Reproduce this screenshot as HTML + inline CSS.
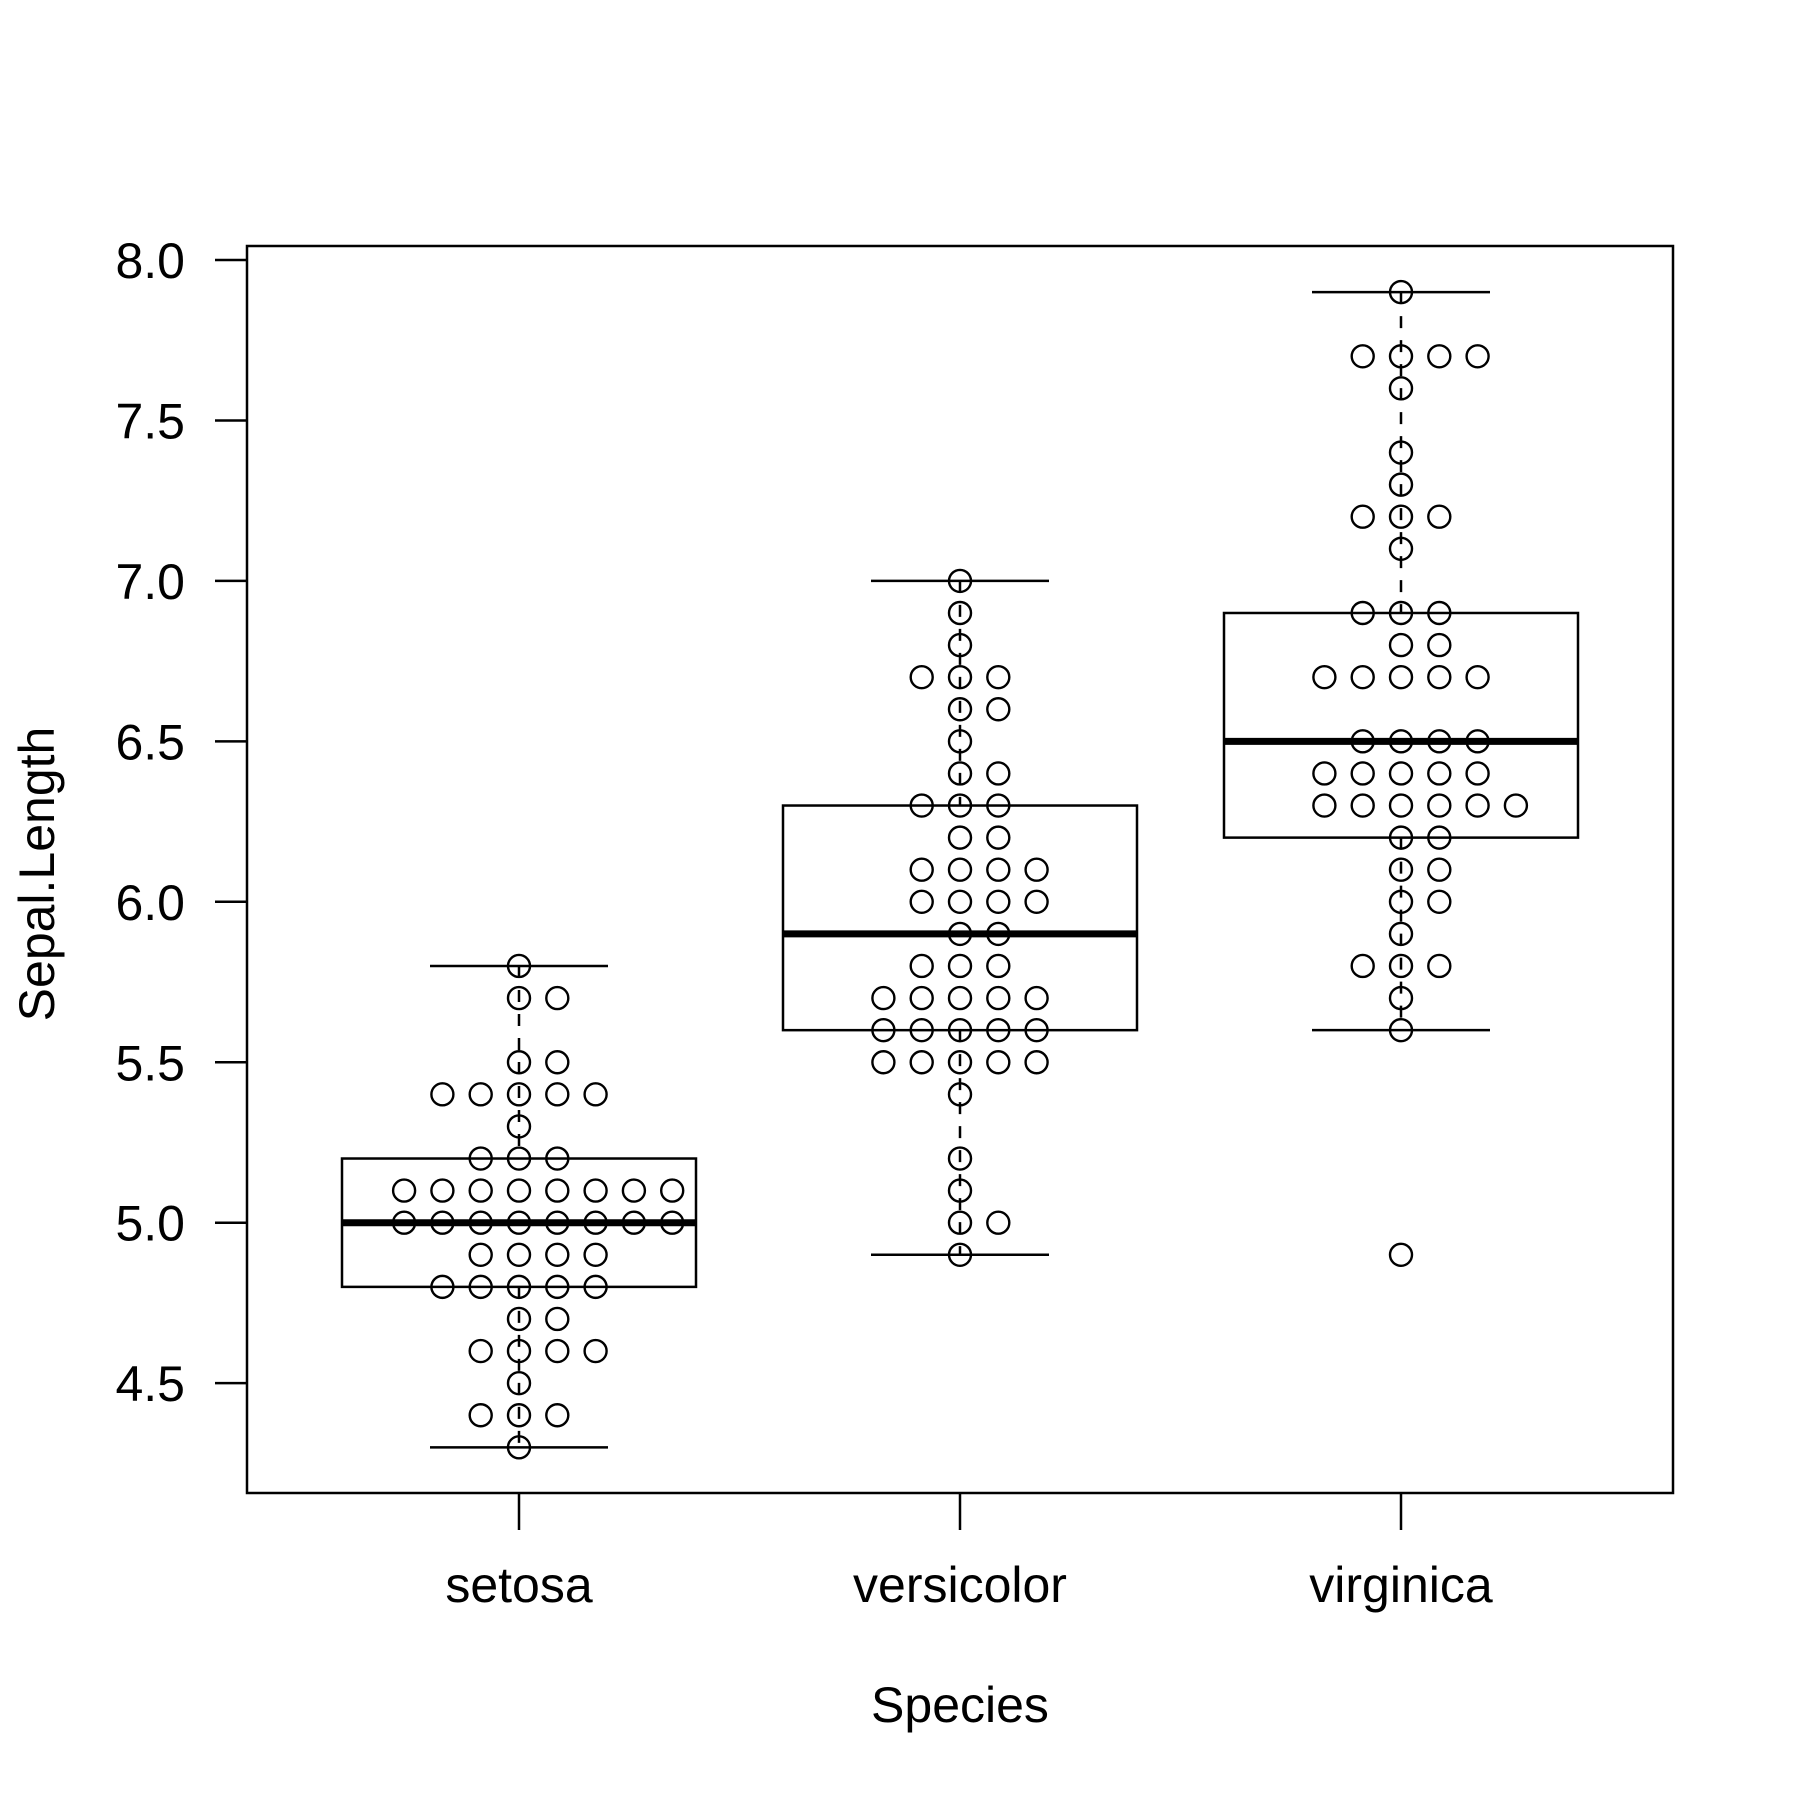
<!DOCTYPE html>
<html><head><meta charset="utf-8"><style>body{margin:0;background:#fff}svg{display:block}</style></head>
<body>
<svg id="s" width="1800" height="1800" xmlns="http://www.w3.org/2000/svg" font-family="Liberation Sans, Arial, sans-serif">
<rect width="1800" height="1800" fill="#fff"/>
<g id="g"></g>
</svg>
<script>
const g=document.getElementById('g');
let h='';
const Y=v=>260+(8-v)*320.9;
const sp=38.3, r=11;
h+=`<rect x="247" y="246" width="1426" height="1247" fill="none" stroke="#000" stroke-width="2.5"/>`;
for(let v=4.5;v<=8.001;v+=0.5){const y=Y(v);h+=`<line x1="215" x2="247" y1="${y}" y2="${y}" stroke="#000" stroke-width="2.5"/><text x="185" y="${y+18}" font-size="50" text-anchor="end">${v.toFixed(1)}</text>`;}
const cx=[519,960,1401],names=['setosa','versicolor','virginica'];
cx.forEach((x,i)=>{h+=`<line x1="${x}" x2="${x}" y1="1493" y2="1530" stroke="#000" stroke-width="2.5"/><text x="${x}" y="1602" font-size="50" text-anchor="middle">${names[i]}</text>`;});
h+=`<text x="960" y="1722" font-size="50" text-anchor="middle">Species</text>`;
h+=`<text transform="translate(54,874) rotate(-90)" font-size="50" text-anchor="middle">Sepal.Length</text>`;
const st=[[4.8,5.0,5.2,4.3,5.8],[5.6,5.9,6.3,4.9,7.0],[6.2,6.5,6.9,5.6,7.9]];
st.forEach((s,i)=>{const x=cx[i];
 h+=`<line x1="${x}" x2="${x}" y1="${Y(s[4])}" y2="${Y(s[2])}" stroke="#000" stroke-width="2.5" stroke-dasharray="12,12"/>`;
 h+=`<line x1="${x}" x2="${x}" y1="${Y(s[0])}" y2="${Y(s[3])}" stroke="#000" stroke-width="2.5" stroke-dasharray="12,12"/>`;
 h+=`<line x1="${x-89}" x2="${x+89}" y1="${Y(s[4])}" y2="${Y(s[4])}" stroke="#000" stroke-width="2.5"/>`;
 h+=`<line x1="${x-89}" x2="${x+89}" y1="${Y(s[3])}" y2="${Y(s[3])}" stroke="#000" stroke-width="2.5"/>`;
 h+=`<rect x="${x-177}" y="${Y(s[2])}" width="354" height="${Y(s[0])-Y(s[2])}" fill="none" stroke="#000" stroke-width="2.5"/>`;
 h+=`<line x1="${x-177}" x2="${x+177}" y1="${Y(s[1])}" y2="${Y(s[1])}" stroke="#000" stroke-width="7"/>`;
});
const pts=[
[[5.8,0,0],[5.7,0,1],[5.5,0,1],[5.4,-2,2],[5.3,0,0],[5.2,-1,1],[5.1,-3,4],[5.0,-3,4],[4.9,-1,2],[4.8,-2,2],[4.7,0,1],[4.6,-1,2],[4.5,0,0],[4.4,-1,1],[4.3,0,0]],
[[7.0,0,0],[6.9,0,0],[6.8,0,0],[6.7,-1,1],[6.6,0,1],[6.5,0,0],[6.4,0,1],[6.3,-1,1],[6.2,0,1],[6.1,-1,2],[6.0,-1,2],[5.9,0,1],[5.8,-1,1],[5.7,-2,2],[5.6,-2,2],[5.5,-2,2],[5.4,0,0],[5.2,0,0],[5.1,0,0],[5.0,0,1],[4.9,0,0]],
[[7.9,0,0],[7.7,-1,2],[7.6,0,0],[7.4,0,0],[7.3,0,0],[7.2,-1,1],[7.1,0,0],[6.9,-1,1],[6.8,0,1],[6.7,-2,2],[6.5,-1,2],[6.4,-2,2],[6.3,-2,3],[6.2,0,1],[6.1,0,1],[6.0,0,1],[5.9,0,0],[5.8,-1,1],[5.7,0,0],[5.6,0,0],[4.9,0,0]]];
pts.forEach((arr,i)=>arr.forEach(([v,a,b])=>{for(let k=a;k<=b;k++)h+=`<circle cx="${cx[i]+k*sp}" cy="${Y(v)}" r="${r}" fill="none" stroke="#000" stroke-width="2.4"/>`;}));
g.innerHTML=h;
</script>
</body></html>
